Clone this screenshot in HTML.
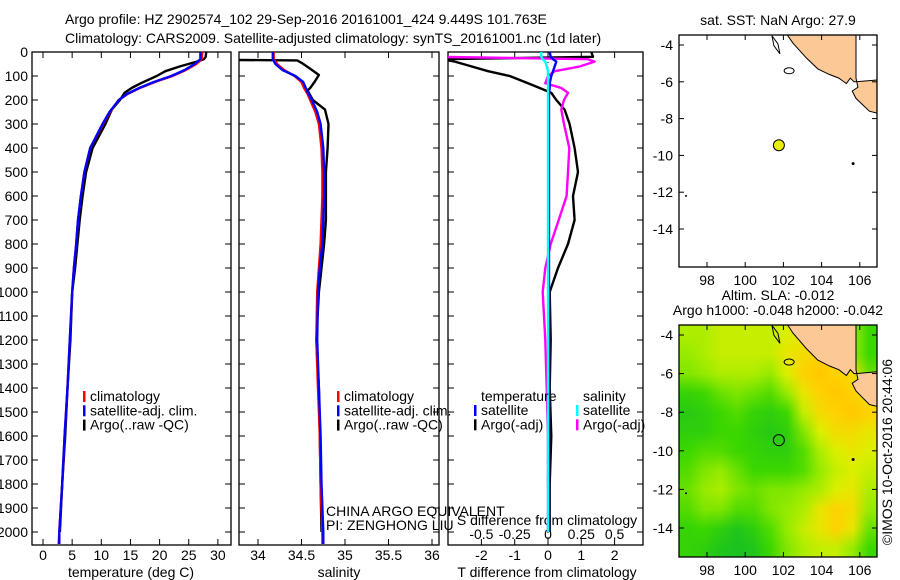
<!DOCTYPE html>
<html><head><meta charset="utf-8">
<style>
html,body{margin:0;padding:0;background:#fff;}
#wrap{position:relative;width:900px;height:580px;overflow:hidden;font-family:"Liberation Sans",sans-serif;}
svg{position:absolute;left:0;top:0;}
text{font-family:"Liberation Sans",sans-serif;font-size:14px;fill:#000;}
#slacv{position:absolute;left:679px;top:325px;width:198px;height:232px;}
</style></head>
<body>
<div id="wrap">
<canvas id="slacv" width="12" height="12"></canvas>
<svg id="fig" width="900" height="580" xmlns="http://www.w3.org/2000/svg">
<text x="65" y="24">Argo profile: HZ 2902574_102 29-Sep-2016 20161001_424 9.449S 101.763E</text>
<text x="65" y="43">Climatology: CARS2009. Satellite-adjusted climatology: synTS_20161001.nc (1d later)</text>
<text x="892" y="452" text-anchor="middle" transform="rotate(-90 892 452)">©IMOS 10-Oct-2016 20:44:06</text>
</svg>
</div>
<script>
// ---------- DATA ----------
const depthTicks=[0,100,200,300,400,500,600,700,800,900,1000,1100,1200,1300,1400,1500,1600,1700,1800,1900,2000];
const tempTicks=[0,5,10,15,20,25,30];
const salTicks=[34,34.5,35,35.5,36];
const tdiffTicks=[-2,-1,0,1,2];
const sdiffTicks=[-0.5,-0.25,0,0.25,0.5];
const lonTicks=[98,100,102,104,106];
const latTicks=[-4,-6,-8,-10,-12,-14];

const climDepth=[0,30,50,75,100,125,150,175,200,250,300,400,500,600,700,800,900,1000,1200,1400,1600,1800,2000,2050];
const climTemp=[27.3,27.2,26.3,24.5,22.2,19.2,16.6,14.5,13.0,11.5,10.3,8.1,7.1,6.5,6.0,5.7,5.3,5.0,4.6,4.2,3.7,3.3,2.8,2.7];
const satTemp=[27.0,27.0,26.0,24.3,22.0,19.0,16.5,14.4,13.0,11.4,10.2,8.1,7.1,6.5,6.0,5.7,5.3,5.0,4.6,4.2,3.7,3.3,2.8,2.8];
const climSal=[34.18,34.18,34.22,34.3,34.42,34.5,34.53,34.57,34.6,34.66,34.7,34.73,34.74,34.74,34.73,34.72,34.7,34.68,34.67,34.69,34.71,34.72,34.74,34.74];
const satSal=[34.17,34.17,34.2,34.28,34.43,34.52,34.55,34.58,34.62,34.68,34.72,34.75,34.76,34.76,34.75,34.74,34.71,34.69,34.68,34.7,34.72,34.73,34.75,34.75];

const argoDepth=[0,20,30,40,60,80,100,130,150,170,200,240,300,400,500,600,700,800,900,1000,1200,1400,1600,1800,2000];
const argoTemp=[28.0,27.9,27.6,26.4,23.5,21,19.5,16.8,15.2,14.0,13.2,11.8,10.7,8.5,7.4,6.8,6.3,5.9,5.5,5.0,4.7,4.2,3.8,3.3,2.9];
const argoSalDepth=[33,35,45,70,96,125,150,160,200,240,300,400,500,600,700,800,900,1000,1200,1400,1600,1800,2000];
const argoSal=[33.6,34.45,34.5,34.6,34.7,34.65,34.6,34.57,34.63,34.77,34.81,34.8,34.78,34.78,34.78,34.76,34.73,34.7,34.67,34.7,34.71,34.72,34.73];

const argoTdiff=[1.3,1.35,-3.2,-2.8,-2.3,-1.8,-1.15,-0.6,-0.25,0.1,0.25,0.5,0.65,0.8,0.9,0.75,0.8,0.6,0.3,0.05,0.08,0.05,0.1,0.05,0.05];
const argoSdiff=[-0.9,-0.85,0.3,0.35,0.24,0.05,0.0,-0.02,0.1,0.15,0.12,0.1,0.12,0.16,0.15,0.14,0.08,0.02,-0.02,-0.04,-0.02,-0.01,0.0,0.0,0.0];
const satTdiff=[0.05,0.08,0.15,0.25,0.2,0.15,0.1,0.05,0.05,0.03,0.03,0.03,0.03,0.03,0.03,0.03,0.03,0.03,0.03,0.03,0.03,0.03,0.03,0.03,0.03];
const satSdiff=[-0.05,-0.05,-0.04,-0.02,-0.01,0.0,0.0,0.0,0.0,0.0,0.0,0.0,0.0,0.0,0.0,0.0,0.0,0.0,0.0,0.0,0.0,0.0,0.0,0.0,0.0];

const argoLon=101.763, argoLat=-9.449;
const slaGrid=[
[.55,.55,.6,.6,.6,.6,.65,.7,.8,.8,.5,.3],
[.5,.55,.6,.6,.6,.6,.7,.75,.8,.8,.5,.3],
[.45,.5,.55,.55,.55,.5,.65,.8,.85,.8,.75,.4],
[.25,.3,.4,.45,.4,.35,.5,.7,.8,.85,.8,.7],
[.15,.2,.3,.35,.25,.2,.3,.6,.75,.8,.85,.8],
[.2,.2,.3,.3,.2,.15,.2,.45,.65,.75,.75,.7],
[.3,.35,.35,.3,.25,.2,.2,.35,.55,.65,.7,.65],
[.35,.45,.5,.4,.3,.3,.3,.35,.5,.6,.65,.6],
[.4,.5,.55,.45,.4,.45,.45,.5,.55,.65,.7,.55],
[.35,.45,.45,.35,.35,.45,.5,.55,.7,.8,.75,.5],
[.25,.3,.2,.1,.2,.35,.5,.6,.7,.8,.7,.4],
[.25,.2,.1,.05,.1,.3,.45,.55,.6,.6,.5,.3]];
const landLon=[101.9,102.5,103.2,103.8,104.4,104.9,105.3,105.5,105.7,105.8,106.9,106.9,106.5,106.1,105.8,105.6,105.9,105.8,105.8];
const landLat=[-3.0,-3.9,-4.7,-5.3,-5.6,-5.8,-6.1,-5.8,-6.0,-6.0,-5.9,-7.7,-7.6,-7.2,-6.9,-6.5,-6.3,-5.8,-3.0];

// ---------- DRAW ----------
const NS='http://www.w3.org/2000/svg';
const svg=document.getElementById('fig');
function mk(tag,attrs,parent){const e=document.createElementNS(NS,tag);for(const k in attrs)e.setAttribute(k,attrs[k]);(parent||svg).appendChild(e);return e;}
const Y0=52,YB=545,DPX=0.24;
const yD=d=>Y0+d*DPX;

function box(x0,x1,y0,y1,name){
  const r=mk('rect',{x:x0,y:y0,width:x1-x0,height:y1-y0,fill:'none',stroke:'#000','stroke-width':1.3});
  
  
}
function xTicks(ticks,fx,y0,y1,labY,name,labels){
  const g=mk('g',{});
  
  
  ticks.forEach((t,i)=>{const x=fx(t);
    mk('line',{x1:x,x2:x,y1:y1,y2:y1-6,stroke:'#000'},g);
    if(y0!==null) mk('line',{x1:x,x2:x,y1:y0,y2:y0+6,stroke:'#000'},g);
    if(labY){const tx=mk('text',{x:x,y:labY,'text-anchor':'middle'},g);tx.textContent=labels?labels[i]:String(t);}
  });
}
function polyline(xs,ys,color,name,w){
  const pts=xs.map((x,i)=>x.toFixed(1)+','+ys[i].toFixed(1)).join(' ');
  const p=mk('polyline',{points:pts,fill:'none',stroke:color,'stroke-width':w||2.4,'stroke-linejoin':'round'});
  
  
  return p;
}
function clip(id,x0,x1,y0,y1){const c=mk('clipPath',{id:id});mk('rect',{x:x0,y:y0,width:x1-x0,height:y1-y0},c);}

// Panel 1 temperature
const xT=t=>43+t*5.83;
clip('c1',32,231,Y0,YB);
box(32,231,Y0,YB,'temperature-panel');
const yg=mk('g',{});


depthTicks.forEach(d=>{const y=yD(d);mk('line',{x1:32,x2:38,y1:y,y2:y,stroke:'#000'},yg);mk('line',{x1:231,x2:225,y1:y,y2:y,stroke:'#000'},yg);
  const t=mk('text',{x:28,y:y+5,'text-anchor':'end'},yg);t.textContent=String(d);});
xTicks(tempTicks,xT,Y0,YB,560,'temperature-axis');
let t1=mk('text',{x:131,y:577,'text-anchor':'middle'});t1.textContent='temperature (deg C)';


const g1=mk('g',{'clip-path':'url(#c1)'});
g1.appendChild(polyline(argoTemp.map(xT),argoDepth.map(yD),'#000','argo-temperature-line'));
g1.appendChild(polyline(climTemp.map(xT),climDepth.map(yD),'#f00','clim-temperature-line'));
g1.appendChild(polyline(satTemp.map(xT),climDepth.map(yD),'#00f','sat-temperature-line'));

function legend(x,y,items,name){
  const g=mk('g',{});
  
  
  items.forEach((it,i)=>{const yy=y+i*14.3;
    if(it[1]) mk('rect',{x:x,y:yy-10,width:2.5,height:11,fill:it[1]},g);
    const t=mk('text',{x:x+(it[1]?7:0),y:yy},g);t.textContent=it[0];});
}
legend(83,401,[['climatology','#f00'],['satellite-adj. clim.','#00f'],['Argo(..raw -QC)','#000']],'temperature-legend');

// Panel 2 salinity
const xS=s=>258+(s-34)*87;
clip('c2',239,439,Y0,YB);
box(239,439,Y0,YB,'salinity-panel');
const yg2=mk('g',{});


depthTicks.forEach(d=>{const y=yD(d);mk('line',{x1:239,x2:245,y1:y,y2:y,stroke:'#000'},yg2);mk('line',{x1:439,x2:433,y1:y,y2:y,stroke:'#000'},yg2);});
xTicks(salTicks,xS,Y0,YB,560,'salinity-axis');
let t2=mk('text',{x:339,y:577,'text-anchor':'middle'});t2.textContent='salinity';


const g2=mk('g',{'clip-path':'url(#c2)'});
g2.appendChild(polyline(argoSal.map(xS),argoSalDepth.map(yD),'#000','argo-salinity-line'));
g2.appendChild(polyline(climSal.map(xS),climDepth.map(yD),'#f00','clim-salinity-line'));
g2.appendChild(polyline(satSal.map(xS),climDepth.map(yD),'#00f','sat-salinity-line'));
legend(337,401,[['climatology','#f00'],['satellite-adj. clim.','#00f'],['Argo(..raw -QC)','#000']],'salinity-legend');
let c1t=mk('text',{x:326,y:516});c1t.textContent='CHINA ARGO EQUIVALENT';


let c2t=mk('text',{x:326,y:530});c2t.textContent='PI: ZENGHONG LIU';



// Panel 3 differences
const xTd=v=>548+v*33.3;
const xSd=v=>548+v*133.2;
clip('c3',448,643,Y0,YB);
box(448,643,Y0,YB,'difference-panel');
const yg3=mk('g',{});


depthTicks.forEach(d=>{const y=yD(d);mk('line',{x1:448,x2:454,y1:y,y2:y,stroke:'#000'},yg3);mk('line',{x1:643,x2:637,y1:y,y2:y,stroke:'#000'},yg3);});
xTicks(tdiffTicks,xTd,Y0,YB,560,'tdiff-axis');
const sdl=sdiffTicks.map(v=>String(v));
const sg=mk('g',{});


sdiffTicks.forEach((v,i)=>{const t=mk('text',{x:xSd(v),y:539,'text-anchor':'middle'},sg);t.textContent=sdl[i];});
let t3=mk('text',{x:547,y:577,'text-anchor':'middle'});t3.textContent='T difference from climatology';


let t4=mk('text',{x:547,y:525,'text-anchor':'middle'});t4.textContent='S difference from climatology';


const zl=mk('line',{x1:xTd(0),x2:xTd(0),y1:Y0,y2:YB,stroke:'#000','stroke-dasharray':'1,4'});


const g3=mk('g',{'clip-path':'url(#c3)'});
g3.appendChild(polyline(argoTdiff.map(xTd),argoDepth.map(yD),'#000','argo-tdiff-line'));
g3.appendChild(polyline(argoSdiff.map(xSd),argoDepth.map(yD),'#f0f','argo-sdiff-line'));
g3.appendChild(polyline(satTdiff.map(xTd),argoDepth.map(yD),'#00f','sat-tdiff-line'));
g3.appendChild(polyline(satSdiff.map(xSd),argoDepth.map(yD),'#0ff','sat-sdiff-line'));
legend(481,401,[['temperature',null]],'tdiff-legend-title');
legend(474,415,[['satellite','#00f'],['Argo(-adj)','#000']],'tdiff-legend');
legend(583,401,[['salinity',null]],'sdiff-legend-title');
legend(576,415,[['satellite','#0ff'],['Argo(-adj)','#f0f']],'sdiff-legend');

// Maps
function drawMap(y0,y1,lat4y,latPx,name,titleLines,filled){
  const fx=lon=>707+(lon-98)*19.1;
  const fy=lat=>lat4y+(-4-lat)*latPx;
  const id='cm'+name;
  clip(id,679,877,y0,y1);
  const g=mk('g',{'clip-path':'url(#'+id+')'});
  
  
  mk('polygon',{points:landLon.map((l,i)=>fx(l).toFixed(1)+','+fy(landLat[i]).toFixed(1)).join(' '),fill:'#fbc896',stroke:'#000','stroke-width':1},g);
  mk('ellipse',{cx:fx(102.3),cy:fy(-5.4),rx:5,ry:3,fill:'none',stroke:'#000'},g);
  mk('circle',{cx:fx(105.65),cy:fy(-10.45),r:1.5,fill:'#000'},g);
  mk('circle',{cx:fx(96.9),cy:fy(-12.2),r:1,fill:'#000'},g);
  mk('path',{d:`M${fx(101.4)},${fy(-3.5)} l6,8 l2,10 l-6,-8 z`,fill:'none',stroke:'#000'},g);
  box(679,877,y0,y1,name+'-frame');
  const tg=mk('g',{});
  
  
  lonTicks.forEach(l=>{const x=fx(l);mk('line',{x1:x,x2:x,y1:y0,y2:y0+5,stroke:'#000'},tg);mk('line',{x1:x,x2:x,y1:y1,y2:y1-5,stroke:'#000'},tg);
    const t=mk('text',{x:x,y:y1+18,'text-anchor':'middle'},tg);t.textContent=String(l);});
  latTicks.forEach(l=>{const y=fy(l);mk('line',{x1:679,x2:684,y1:y,y2:y,stroke:'#000'},tg);mk('line',{x1:877,x2:872,y1:y,y2:y,stroke:'#000'},tg);
    const t=mk('text',{x:673,y:y+5,'text-anchor':'end'},tg);t.textContent=String(l);});
  titleLines.forEach((s,i)=>{const t=mk('text',{x:778,y:y0-10-(titleLines.length-1-i)*15,'text-anchor':'middle'},tg);t.textContent=s;});
  const c=mk('circle',{cx:fx(argoLon),cy:fy(argoLat),r:5.5,fill:filled?'#e6f000':'none',stroke:'#000','stroke-width':1});
  
  
}
drawMap(35,267,45,18.4,'sst-map',['sat. SST: NaN Argo: 27.9'],true);
drawMap(325,557,335,19.3,'sla-map',['Altim. SLA: -0.012','Argo h1000: -0.048 h2000: -0.042'],false);

// SLA heatmap canvas (smoothed by CSS scaling)
const cv=document.getElementById('slacv');const cx=cv.getContext('2d');
const stops=[[0,[20,190,40]],[0.3,[60,215,0]],[0.5,[150,235,0]],[0.65,[220,240,0]],[0.8,[255,210,0]],[1,[255,170,0]]];
function cmap(v){for(let i=1;i<stops.length;i++){if(v<=stops[i][0]){const a=stops[i-1],b=stops[i];const f=(v-a[0])/(b[0]-a[0]);return a[1].map((c,k)=>Math.round(c+(b[1][k]-c)*f));}}return stops[stops.length-1][1];}
slaGrid.forEach((row,r)=>row.forEach((v,c)=>{const col=cmap(v);cx.fillStyle=`rgb(${col[0]},${col[1]},${col[2]})`;cx.fillRect(c,r,1,1);}));
</script>
</body></html>
